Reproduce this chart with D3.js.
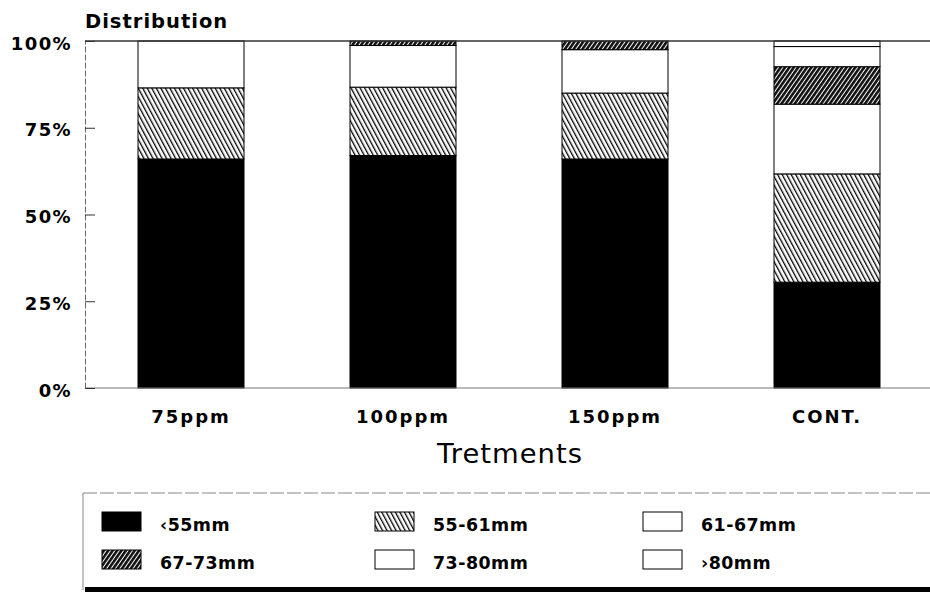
<!DOCTYPE html>
<html>
<head>
<meta charset="utf-8">
<script src="https://cdn.jsdelivr.net/npm/d3@7"></script>
<style>
  html, body { margin: 0; padding: 0; background: #fff; }
  svg { display: block; font-family: "DejaVu Sans", sans-serif; }
</style>
</head>
<body>
<svg id="chart" width="930" height="592"></svg>
<script>
// ---- data ----
const categories = ["75ppm", "100ppm", "150ppm", "CONT."];
const sizeClasses = ["‹55mm", "55-61mm", "61-67mm", "67-73mm", "73-80mm", "›80mm"];
const lt55   = [66.0, 67.0, 66.0, 30.5];
const c55_61 = [20.5, 19.7, 19.0, 31.2];
const c61_67 = [13.5, 12.0, 12.5, 20.1];
const c67_73 = [0.0, 1.3, 2.5, 10.8];
const c73_80 = [0.0, 0.0, 0.0, 5.8];
const gt80   = [0.0, 0.0, 0.0, 1.6];
const yTicks = [0, 25, 50, 75, 100];

const seriesValues = [lt55, c55_61, c61_67, c67_73, c73_80, gt80];
const table = categories.map((c, i) => {
  const row = { cat: c };
  sizeClasses.forEach((s, k) => row[s] = seriesValues[k][i]);
  return row;
});

const FONT = "DejaVu Sans, sans-serif";
const svg = d3.select("#chart");
const defs = svg.append("defs");

// hatch patterns
const p1 = defs.append("pattern").attr("id", "hatchBack")
  .attr("patternUnits", "userSpaceOnUse").attr("width", 4).attr("height", 10)
  .attr("patternTransform", "rotate(-28)");
p1.append("rect").attr("width", 4).attr("height", 10).attr("fill", "#fff");
p1.append("rect").attr("x", 0).attr("width", 1.3).attr("height", 10).attr("fill", "#000");

const p2 = defs.append("pattern").attr("id", "hatchFwd")
  .attr("patternUnits", "userSpaceOnUse").attr("width", 3.6).attr("height", 10)
  .attr("patternTransform", "rotate(35)");
p2.append("rect").attr("width", 3.6).attr("height", 10).attr("fill", "#fff");
p2.append("rect").attr("x", 0).attr("width", 2.6).attr("height", 10).attr("fill", "#111");

const fills = ["#000", "url(#hatchBack)", "#fff", "url(#hatchFwd)", "#fff", "#fff"];

// scales
const x = d3.scaleBand().domain(categories).range([85, 933])
  .paddingInner(0.5).paddingOuter(0.25);
const y = d3.scaleLinear().domain([0, 100]).range([388, 41]);

// stacked bars
const stack = d3.stack().keys(sizeClasses)(table);
const g = svg.append("g");
stack.forEach((layer, k) => {
  g.selectAll(null).data(layer.filter(d => d[1] - d[0] > 0)).join("rect")
    .attr("x", d => x(d.data.cat))
    .attr("width", x.bandwidth())
    .attr("y", d => y(d[1]))
    .attr("height", d => y(d[0]) - y(d[1]))
    .attr("fill", fills[k])
    .attr("stroke", "#000")
    .attr("stroke-width", 1);
});

// frame lines
svg.append("line").attr("x1", 85).attr("x2", 930).attr("y1", y(100)).attr("y2", y(100))
  .attr("stroke", "#333").attr("stroke-width", 1.5);
svg.append("line").attr("x1", 85).attr("x2", 930).attr("y1", y(0)).attr("y2", y(0))
  .attr("stroke", "#777").attr("stroke-width", 1);

// y axis
const yAxis = d3.axisLeft(y).tickValues(yTicks).tickFormat(d => d + "%")
  .tickSizeInner(-10).tickSizeOuter(0).tickPadding(13);
const ya = svg.append("g").attr("transform", "translate(85,0)").call(yAxis);
ya.select(".domain").attr("stroke", "#666").attr("stroke-dasharray", "6,2");
ya.selectAll(".tick line").attr("stroke", "#333");
ya.selectAll(".tick text").attr("font-size", 18).attr("font-weight", "bold")
  .attr("letter-spacing", 1.4).attr("fill", "#000").attr("font-family", FONT)
  .attr("dy", "0.45em");

// x axis
const xAxis = d3.axisBottom(x).tickSize(0).tickPadding(22);
const xa = svg.append("g").attr("transform", "translate(0,388)").call(xAxis);
xa.select(".domain").remove();
xa.selectAll(".tick text").attr("font-size", 18).attr("font-weight", "bold")
  .attr("letter-spacing", 2).attr("fill", "#000").attr("font-family", FONT);

// titles
svg.append("text").attr("x", 85).attr("y", 28).text("Distribution")
  .attr("font-size", 19.5).attr("font-weight", "bold").attr("letter-spacing", 1);
svg.append("text").attr("x", 510).attr("y", 463).attr("text-anchor", "middle")
  .text("Tretments").attr("font-size", 27.4).attr("letter-spacing", 1);

// legend
const lg = svg.append("g");
lg.append("line").attr("x1", 83).attr("x2", 930).attr("y1", 493).attr("y2", 493)
  .attr("stroke", "#888").attr("stroke-dasharray", "14,3");
lg.append("line").attr("x1", 83).attr("x2", 83).attr("y1", 493).attr("y2", 590)
  .attr("stroke", "#888");
lg.append("line").attr("x1", 85).attr("x2", 930).attr("y1", 589.5).attr("y2", 589.5)
  .attr("stroke", "#000").attr("stroke-width", 5);

const colX = [102, 375, 643];
const rowY = [512, 550];
sizeClasses.forEach((s, k) => {
  const cx = colX[k % 3], cy = rowY[Math.floor(k / 3)];
  lg.append("rect").attr("x", cx).attr("y", cy).attr("width", 39).attr("height", 19)
    .attr("fill", fills[k]).attr("stroke", "#000").attr("stroke-width", 1);
  lg.append("text").attr("x", cx + 58).attr("y", cy + 19).text(s)
    .attr("font-size", 17.4).attr("font-weight", "bold").attr("letter-spacing", 0.5);
});
</script>
</body>
</html>
